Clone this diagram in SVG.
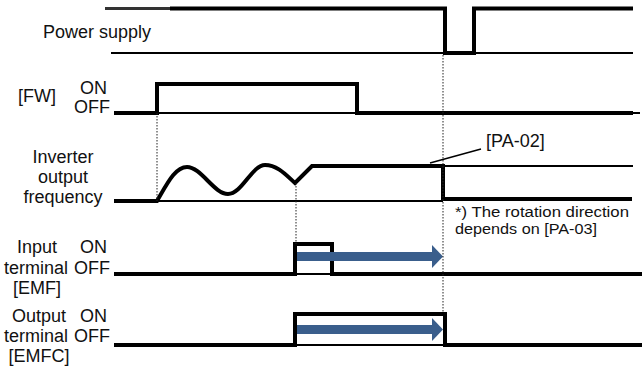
<svg xmlns="http://www.w3.org/2000/svg" width="642" height="371" viewBox="0 0 642 371">
<style>
text{font-family:"Liberation Sans",Arial,sans-serif;font-size:18px;fill:#111}
.note{font-size:15.5px}
.sig{fill:none;stroke:#000;stroke-width:4;stroke-linejoin:miter}
.base{fill:none;stroke:#000;stroke-width:1.8}
.dot{fill:none;stroke:#222;stroke-width:1;stroke-dasharray:1.5 1.5}
.arr{fill:#3a5e8c}
</style>
<rect width="642" height="371" fill="#fff"/>
<g id="power">
<line class="base" x1="111" y1="53" x2="633" y2="53"/>
<path d="M105,8.5 H172" fill="none" stroke="#333" stroke-width="3"/>
<path class="sig" d="M170,8.5 H445 V53 H474 V8.5 H633"/>
<text x="43" y="38">Power supply</text>
</g>
<g id="fw">
<line class="base" x1="157" y1="113" x2="640" y2="113"/>
<path class="sig" d="M114,113 H157 V84 H357 V113 H633"/>
<text x="18" y="102">[FW]</text>
<text x="80" y="94">ON</text>
<text x="74" y="113">OFF</text>
</g>
<g id="freq">
<line class="base" x1="157" y1="201" x2="443" y2="201"/>
<line class="base" x1="443" y1="166" x2="633" y2="166"/>
<path class="sig" d="M114,201 H157 C167,184 175,167 187,167 C201,167 214,194 228,194 C242,194 252,165 265,165 C278,165 287,176 295,183 L312,166 H443 V199 H632"/>
<text x="63" y="163" text-anchor="middle">Inverter</text>
<text x="63" y="183" text-anchor="middle">output</text>
<text x="63" y="203" text-anchor="middle">frequency</text>
<line x1="430" y1="163" x2="481" y2="149" stroke="#000" stroke-width="1.5"/>
<text x="486" y="147">[PA-02]</text>
<text class="note" x="455" y="217" textLength="174" lengthAdjust="spacingAndGlyphs">*) The rotation direction</text>
<text class="note" x="455" y="234" textLength="142" lengthAdjust="spacingAndGlyphs">depends on [PA-03]</text>
</g>
<g id="input">
<line class="base" x1="295" y1="274" x2="334" y2="274"/>
<path class="sig" d="M114,274 H295 V244 H332 V274 H642"/>
<rect class="arr" x="297" y="252" width="136" height="9"/>
<polygon class="arr" points="432,245 443,256.5 432,268"/>
<text x="37" y="253" text-anchor="middle">Input</text>
<text x="36" y="274" text-anchor="middle">terminal</text>
<text x="37" y="294" text-anchor="middle">[EMF]</text>
<text x="80" y="253">ON</text>
<text x="74" y="274">OFF</text>
</g>
<g id="output">
<line class="base" x1="295" y1="345" x2="445" y2="345"/>
<path class="sig" d="M114,345 H295 V314 H445 V345 H642"/>
<rect class="arr" x="297" y="325" width="136" height="9"/>
<polygon class="arr" points="432,318 443,329.5 432,341"/>
<text x="39" y="322" text-anchor="middle">Output</text>
<text x="36" y="342" text-anchor="middle">terminal</text>
<text x="39" y="362" text-anchor="middle">[EMFC]</text>
<text x="80" y="322">ON</text>
<text x="74" y="342">OFF</text>
</g>
<g id="connectors">
<line class="dot" x1="157" y1="113" x2="157" y2="201"/>
<line class="dot" x1="296" y1="183" x2="296" y2="244"/>
<line class="dot" x1="443" y1="55" x2="443" y2="313"/>
</g>
</svg>
